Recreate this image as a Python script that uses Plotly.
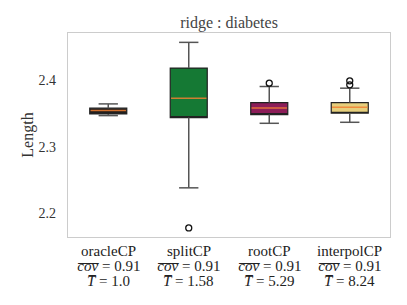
import plotly.graph_objects as go

methods = ["oracleCP", "splitCP", "rootCP", "interpolCP"]
coverage = ["0.91", "0.91", "0.91", "0.91"]
times = ["1.0", "1.58", "5.29", "8.24"]

q1 = [2.349, 2.3435, 2.348, 2.350]
median = [2.354, 2.3726, 2.358, 2.359]
q3 = [2.3576, 2.4176, 2.366, 2.366]
lower = [2.3465, 2.2385, 2.335, 2.3365]
upper = [2.364, 2.456, 2.390, 2.3875]
outliers = [[], [2.1785], [2.395], [2.3985, 2.3925]]

fills = ["#1e1a1a", "#157934", "#8c1d58", "#e6cf7c"]
title = "ridge : diabetes"
ylabel = "Length"
yticks = [2.2, 2.3, 2.4]

BOXW = 0.46
CAPW = 0.24
FONT = "Liberation Serif"
OVL = "\u0305"


def overline(s):
    return "".join(ch + OVL for ch in s)


fig = go.Figure()

# whiskers and caps
wx, wy = [], []
for i in range(len(methods)):
    wx += [i, i, None, i, i, None]
    wy += [q3[i], upper[i], None, q1[i], lower[i], None]
    wx += [i - CAPW / 2, i + CAPW / 2, None, i - CAPW / 2, i + CAPW / 2, None]
    wy += [upper[i], upper[i], None, lower[i], lower[i], None]
fig.add_trace(go.Scatter(x=wx, y=wy, mode="lines", line=dict(color="#555555", width=1.5),
                         hoverinfo="skip", showlegend=False))

# boxes
for i, m in enumerate(methods):
    fig.add_trace(go.Box(x=[i], q1=[q1[i]], median=[q1[i]], q3=[q3[i]],
                         lowerfence=[q1[i]], upperfence=[q3[i]],
                         width=BOXW, whiskerwidth=0, fillcolor=fills[i],
                         line=dict(color="#222222", width=1.2), showlegend=False))

# medians
mx, my = [], []
for i in range(len(methods)):
    mx += [i - BOXW / 2 + 0.01, i + BOXW / 2 - 0.01, None]
    my += [median[i], median[i], None]
fig.add_trace(go.Scatter(x=mx, y=my, mode="lines", line=dict(color="rgba(240,128,50,0.85)", width=1.5),
                         hoverinfo="skip", showlegend=False))

# outliers
ox, oy = [], []
for i, vals in enumerate(outliers):
    for v in vals:
        ox.append(i)
        oy.append(v)
fig.add_trace(go.Scatter(x=ox, y=oy, mode="markers",
                         marker=dict(symbol="circle-open", size=6, color="#111111", line=dict(width=1.3)),
                         hoverinfo="skip", showlegend=False))

# x category labels (three lines each)
for i, (m, c, t) in enumerate(zip(methods, coverage, times)):
    lines = [m, f"<i>{overline('cov')}</i> = {c}", f"<i>{overline('T')}</i> = {t}"]
    for line, shift in zip(lines, [-14, -29, -44]):
        fig.add_annotation(x=i, xref="x", y=0, yref="paper", yshift=shift,
                           text=line, showarrow=False, xanchor="center", yanchor="middle",
                           font=dict(family=FONT, size=15, color="#222222"))

fig.update_layout(
    width=407, height=305,
    margin=dict(l=68, r=17, t=33, b=68),
    paper_bgcolor="white", plot_bgcolor="white",
    font=dict(family=FONT, size=14, color="#333333"),
    title=dict(text=title, x=0.5, xanchor="center", xref="paper", y=0.925, yanchor="middle",
               font=dict(family=FONT, size=16, color="#444444")),
    xaxis=dict(range=[-0.5, 3.5], tickmode="array", tickvals=list(range(len(methods))),
               showticklabels=False, showgrid=False, zeroline=False, ticks="",
               showline=True, linecolor="#cccccc", linewidth=1.2, mirror=True),
    yaxis=dict(range=[2.165, 2.470], tickvals=yticks, ticktext=[f"{v:.1f}" for v in yticks],
               showgrid=False, zeroline=False, ticks="", ticklabelstandoff=8,
               showline=True, linecolor="#cccccc", linewidth=1.2, mirror=True,
               title=dict(text=ylabel, standoff=0, font=dict(family=FONT, size=16, color="#333333")),
               tickfont=dict(family=FONT, size=14, color="#333333")),
)

fig.write_html("out.html", config={"displayModeBar": False},
               post_script="document.body.style.margin='0';document.body.style.overflow='hidden';")
